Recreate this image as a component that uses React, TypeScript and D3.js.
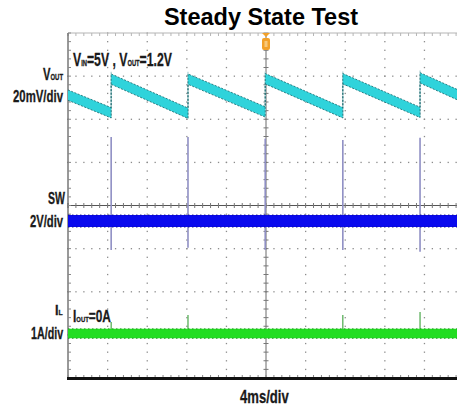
import React from "react";
import * as d3 from "d3";

const W = 457;
const H = 412;

// time axis in divisions (4 ms/div), vertical axis in divisions
const xDomain = [0, 10];
const yDomain = [-4, 4];

// Vout sawtooth vertices (div units)
const voutT = [0, 1.09, 1.09, 3.03, 3.03, 4.98, 4.98, 6.94, 6.94, 8.89, 8.89, 10];
const voutV = [2.56, 2.15, 2.93, 2.14, 2.93, 2.17, 2.94, 2.15, 2.94, 2.16, 2.96, 2.5];
const voutHalf = 0.12;

// switching events
const jumpTimes = [1.09, 3.03, 4.98, 6.94, 8.89];
const swSpikeTop = [1.59, 1.59, 1.55, 1.52, 1.57];
const swSpikeBottom = [-1.03, -0.98, -1.03, -1.03, -1.07];
const swLevel = -0.36;
const swHalf = 0.14;

const ilLevel = -2.97;
const ilHalf = 0.11;
const ilSpikeTop = [-2.7, -2.54, -2.9, -2.54, -2.47];

const x = d3.scaleLinear().domain(xDomain).range([68, 464]);
const y = d3.scaleLinear().domain(yDomain).range([378, 33]);

const majorX = d3.range(1, 10).filter((v) => v !== 5);
const majorY = d3.range(-3, 4).filter((v) => v !== 0);
const minorX = d3.range(0, 10.01, 0.2);
const minorY = d3.range(-4, 4.01, 0.2);

function band(ts: number[], vs: number[], half: number) {
  const pts = ts.map((t, i) => [t, vs[i]] as [number, number]);
  const area = d3
    .area<[number, number]>()
    .x((d) => x(d[0]))
    .y0((d) => y(d[1] - half))
    .y1((d) => y(d[1] + half));
  const top = d3
    .line<[number, number]>()
    .x((d) => x(d[0]))
    .y((d) => y(d[1] + half));
  const bot = d3
    .line<[number, number]>()
    .x((d) => x(d[0]))
    .y((d) => y(d[1] - half));
  return { area: area(pts) || "", top: top(pts) || "", bot: bot(pts) || "" };
}

const labelFont = "'Liberation Sans', Arial, sans-serif";

// label lines: segments of [text, fontSize]
type Seg = [string, number];
type Line = { segs: Seg[]; x: number; y: number; sx: number };
const labelLines: Line[] = [
  { segs: [["V", 17], ["OUT", 9]], x: 43, y: 80, sx: 0.66 },
  { segs: [["20mV/div", 17]], x: 13, y: 102, sx: 0.67 },
  { segs: [["V", 19], ["IN", 9], ["=5V , V", 19], ["OUT", 9], ["=1.2V", 19]], x: 73, y: 66, sx: 0.644 },
  { segs: [["SW", 17]], x: 48, y: 204, sx: 0.62 },
  { segs: [["2V/div", 17]], x: 30, y: 227, sx: 0.66 },
  { segs: [["I", 15], ["L", 8]], x: 55, y: 315, sx: 0.85 },
  { segs: [["I", 16], ["OUT", 8], ["=0A", 16]], x: 73, y: 322, sx: 0.74 },
  { segs: [["1A/div", 17]], x: 31, y: 339, sx: 0.63 },
  { segs: [["4ms/div", 19]], x: 240, y: 403, sx: 0.69 },
];

export default function App() {
  const vout = band(voutT, voutV, voutHalf);
  const sw = band([0, 10], [swLevel, swLevel], swHalf);
  const il = band([0, 10], [ilLevel, ilLevel], ilHalf);

  const dots: React.ReactNode[] = [];
  majorX.forEach((mx) =>
    minorY.forEach((my, i) =>
      dots.push(<rect key={`vx${mx}-${i}`} x={x(mx) - 0.6} y={y(my) - 0.6} width={1.3} height={1.3} fill="#8c8c8c" />)
    )
  );
  majorY.forEach((my) =>
    minorX.forEach((mx, i) =>
      dots.push(<rect key={`hy${my}-${i}`} x={x(mx) - 0.6} y={y(my) - 0.6} width={1.3} height={1.3} fill="#8c8c8c" />)
    )
  );

  return (
    <svg
      width={W}
      height={H}
      style={{ position: "absolute", left: 0, top: 0, background: "#fff" }}
    >
      <text
        x={261}
        y={25}
        textAnchor="middle"
        fontFamily="'Liberation Sans', Arial, sans-serif"
        fontWeight="bold"
        fontSize={23.5}
        fill="#000"
      >
        Steady State Test
      </text>

      {/* grid dots */}
      <g>{dots}</g>

      {/* center axes with ticks */}
      <line x1={x(5)} x2={x(5)} y1={y(4)} y2={y(-4)} stroke="#6a6a6a" strokeWidth={1} />
      <line x1={x(0)} x2={x(10)} y1={y(0)} y2={y(0)} stroke="#555" strokeWidth={1} />
      {minorY.map((v, i) => (
        <line key={`cyt${i}`} x1={x(5) - 2.5} x2={x(5) + 2.5} y1={y(v)} y2={y(v)} stroke="#777" strokeWidth={1} />
      ))}
      {minorX.map((v, i) => (
        <line key={`cxt${i}`} x1={x(v)} x2={x(v)} y1={y(0) - 2.5} y2={y(0) + 2.5} stroke="#777" strokeWidth={1} />
      ))}

      {/* borders */}
      <line x1={x(0)} x2={x(10)} y1={y(4)} y2={y(4)} stroke="#b5b5b5" strokeWidth={1} />
      {minorX.map((v, i) => (
        <line key={`tt${i}`} x1={x(v)} x2={x(v)} y1={y(4)} y2={y(4) + 3} stroke="#b5b5b5" strokeWidth={1} />
      ))}
      <line x1={x(0)} x2={x(0)} y1={y(4)} y2={y(-4)} stroke="#555" strokeWidth={1.2} />
      {minorY.map((v, i) => (
        <line key={`lt${i}`} x1={x(0)} x2={x(0) + 3} y1={y(v)} y2={y(v)} stroke="#888" strokeWidth={1} />
      ))}
      {minorX.map((v, i) => (
        <line key={`bt${i}`} x1={x(v)} x2={x(v)} y1={y(-4) - 3} y2={y(-4)} stroke="#888" strokeWidth={1} />
      ))}
      <line x1={x(0) - 1} x2={x(10)} y1={y(-4) + 0.5} y2={y(-4) + 0.5} stroke="#111" strokeWidth={3} />

      {/* SW spikes */}
      {jumpTimes.map((t, i) => (
        <line key={`sws${i}`} x1={x(t)} x2={x(t)} y1={y(swSpikeTop[i])} y2={y(swSpikeBottom[i])} stroke="#8f8fc4" strokeWidth={1.6} />
      ))}

      {/* Vout jump edges */}
      {jumpTimes.map((t, i) => {
        const idx = voutT.indexOf(t);
        return (
          <line key={`vj${i}`} x1={x(t)} x2={x(t)} y1={y(voutV[idx] - voutHalf)} y2={y(voutV[idx + 1] + voutHalf + 0.05)} stroke="#a9cfd2" strokeWidth={1.2} />
        );
      })}

      {/* Vout band */}
      <path d={vout.area} fill="#2fd3db" />
      <path d={vout.top} fill="none" stroke="#17666c" strokeWidth={1} strokeDasharray="2 1.5" opacity={0.8} />
      <path d={vout.bot} fill="none" stroke="#17666c" strokeWidth={1} strokeDasharray="2 1.5" opacity={0.8} />

      {/* SW band */}
      <path d={sw.area} fill="#0a0aee" />
      <path d={sw.top} fill="none" stroke="#0a0a80" strokeWidth={1} strokeDasharray="1.5 2.5" opacity={0.8} />
      <path d={sw.bot} fill="none" stroke="#0a0a80" strokeWidth={1} strokeDasharray="1.5 2.5" opacity={0.8} />

      {/* IL spikes */}
      {jumpTimes.map((t, i) => (
        <line key={`ils${i}`} x1={x(t)} x2={x(t)} y1={y(ilSpikeTop[i])} y2={y(ilLevel)} stroke="#4aa84a" strokeWidth={1.2} />
      ))}
      {/* IL band */}
      <path d={il.area} fill="#22dd22" />
      <path d={il.top} fill="none" stroke="#168a16" strokeWidth={1} strokeDasharray="1.5 2.5" opacity={0.8} />
      <path d={il.bot} fill="none" stroke="#168a16" strokeWidth={1} strokeDasharray="1.5 2.5" opacity={0.8} />

      {/* trigger marker */}
      <path d={`M${x(5) - 4},${y(4)} L${x(5) + 4},${y(4)} L${x(5)},${y(4) + 4} Z`} fill="#f2a12a" />
      <rect x={x(5) - 4} y={y(4) + 5} width={8} height={12} rx={2} fill="#f2a12a" />
      <rect x={x(5) - 1.5} y={y(4) + 8} width={3} height={6} fill="#f8c97a" />

      {/* labels */}
      <g fontFamily={labelFont} fontWeight="bold" fill="#1a1a1a" stroke="#1a1a1a" strokeWidth={0.3}>
        {labelLines.map((l, i) => (
          <text key={`lb${i}`} transform={`translate(${l.x},${l.y}) scale(${l.sx},1)`} x={0} y={0}>
            {l.segs.map((s, j) => (
              <tspan key={j} fontSize={s[1]}>
                {s[0]}
              </tspan>
            ))}
          </text>
        ))}
      </g>
    </svg>
  );
}
